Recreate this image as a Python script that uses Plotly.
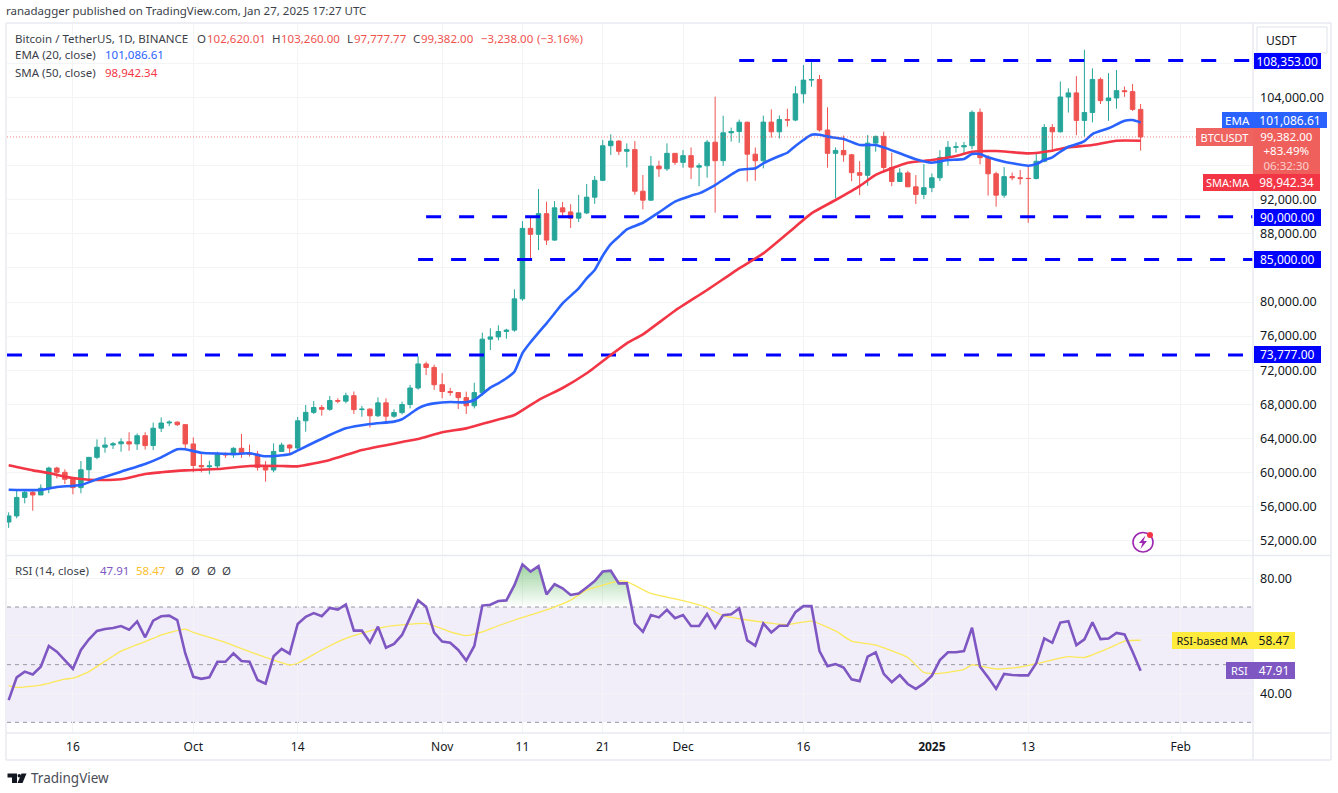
import pandas as pd
import plotly.graph_objects as go

W, H = 1338, 793
FONT = "Noto Sans"

dates = pd.date_range("2024-09-08", "2025-01-27", freq="D")

opens = [
    54160, 54880, 57050, 57650, 57340, 58130, 60500, 60000, 59180, 58200, 60300, 61760, 62950, 63200, 63350, 63580, 63330, 64300, 63140, 65180, 65790, 65890, 65600,
    63330, 60800, 60650, 60750, 62070, 62060, 62820, 62220, 62130, 60580, 60270, 62450, 63200, 62850, 66050, 67040, 67610, 67400, 68430, 68360, 69000, 67360, 67420, 66640, 68160, 66590, 67010, 67960, 69900, 72730, 72320,
    70290, 69490, 69370, 68770, 67810, 69360, 75640, 75900, 76540, 76700, 80370, 88650, 87950, 90380, 87270, 91060, 90580, 89850, 90460, 92310, 94290, 98350, 98900, 97700, 97900, 93010, 91960, 95960, 95640, 97460,
    96400, 97190, 95840, 96000, 98770, 96600, 99870, 100020, 101110, 97360, 96590, 101130, 99990, 101430, 101370, 104450, 106060, 106130, 100200, 97460, 97800, 97290, 95190, 94880, 98660, 99450, 95800, 94160, 95160, 93530, 92640,
    93430, 94590, 96980, 98170, 98220, 98360, 102280, 96950, 95060, 92550, 94726, 94600, 94520, 94500, 96530, 100500, 99990, 104080, 104560, 101330, 102260, 106140, 103650, 103960, 104820, 104710, 102620,
]
highs = [
    55300, 58040, 58040, 57920, 58580, 60660, 60660, 60350, 59210, 61330, 61780, 63870, 64110, 63560, 63990, 64700, 64570, 64700, 65840, 66450, 66100, 66000, 65650,
    64100, 62350, 61360, 62420, 62340, 62940, 64510, 63250, 62500, 61320, 63400, 63480, 63300, 66500, 67900, 68370, 67900, 68960, 68700, 69350, 69490, 67790, 67530, 68800, 68690, 67400, 68300, 70270, 73620, 72990, 72640,
    71630, 69920, 69400, 69470, 70520, 76400, 76910, 77260, 76860, 81490, 89500, 89950, 93270, 91780, 91850, 91750, 91480, 92580, 93860, 94800, 99030, 99690, 99000, 98630, 98900, 94920, 97150, 96600, 98630, 97460,
    97860, 98150, 96300, 99030, 104120, 101880, 100480, 101430, 101200, 98150, 101890, 102620, 101910, 102700, 105350, 107830, 108350, 106670, 102870, 98160, 99550, 97400, 96540, 99600, 99550, 100000, 97530, 95700, 95400, 94900, 96200,
    95100, 97830, 98900, 98770, 98800, 102500, 102720, 97260, 95300, 95840, 95200, 95500, 96000, 97450, 100900, 100900, 105900, 105100, 106530, 109630, 107440, 106370, 106880, 107250, 105300, 105600, 103260,
]
lows = [
    53480, 54600, 56350, 55490, 57340, 57540, 59290, 58620, 57420, 57540, 59100, 61530, 62300, 62740, 62420, 62530, 62620, 62670, 62620, 64730, 65420, 65430, 62730,
    60000, 59990, 59770, 60330, 61700, 61700, 61700, 61850, 60200, 58900, 60000, 62420, 62000, 62700, 64770, 66850, 66650, 67230, 68100, 68100, 66850, 66530, 65260, 66500, 65680, 66400, 66800, 67500, 69700, 71430, 69680,
    68700, 69000, 67440, 66850, 67500, 69000, 74360, 75500, 75690, 76500, 80150, 85070, 86100, 86700, 87200, 90050, 88700, 89400, 90340, 91530, 94200, 97260, 97260, 95800, 92590, 90880, 91860, 94700, 95400, 96100,
    95770, 94440, 93600, 94600, 90500, 96000, 98840, 98700, 94150, 94240, 95700, 99300, 99200, 100600, 101230, 103340, 105280, 100000, 95770, 92200, 96470, 94200, 92560, 93650, 97650, 95200, 93600, 94100, 93500, 91500, 92100,
    92900, 94200, 96000, 97550, 97300, 97950, 96170, 92500, 91200, 92250, 94300, 93800, 89300, 94400, 96400, 97650, 99900, 102250, 99600, 99420, 101100, 103250, 101280, 102700, 104100, 102450, 97777.77,
]
closes = [
    54880, 57050, 57650, 57340, 58130, 60500, 60000, 59180, 58200, 60300, 61760, 62950, 63200, 63350, 63580, 63330, 64300, 63140, 65180, 65790, 65890, 65600, 63330,
    60800, 60650, 60750, 62070, 62060, 62820, 62220, 62130, 60580, 60270, 62450, 63200, 62850, 66050, 67040, 67610, 67400, 68430, 68360, 69000, 67360, 67420, 66640, 68160, 66590, 67010, 67960, 69900, 72730, 72320, 70290,
    69490, 69370, 68770, 67810, 69360, 75640, 75900, 76540, 76700, 80370, 88650, 87950, 90380, 87270, 91060, 90580, 89850, 90460, 92310, 94290, 98350, 98900, 97700, 97900, 93010, 91960, 95960, 95640, 97460, 96400,
    97190, 95840, 96000, 98770, 96600, 99870, 100020, 101110, 97360, 96590, 101130, 99990, 101430, 101370, 104450, 106060, 106130, 100200, 97460, 97800, 97290, 95190, 94880, 98660, 99450, 95800, 94160, 95160, 93530, 92640, 93430,
    94590, 96980, 98170, 98220, 98360, 102280, 96950, 95060, 92550, 94726, 94600, 94500, 94500, 96530, 100500, 99990, 104080, 104560, 101330, 102260, 106140, 103650, 103960, 104820, 104710, 102620, 99382,
]

ema_dates = [
    "2024-09-08", "2024-09-12", "2024-09-14", "2024-09-17", "2024-09-19", "2024-09-22", "2024-09-25", "2024-09-27", "2024-09-29", "2024-09-30",
    "2024-10-02", "2024-10-06", "2024-10-08", "2024-10-10", "2024-10-13", "2024-10-14", "2024-10-18", "2024-10-20", "2024-10-23", "2024-10-26",
    "2024-10-27", "2024-10-28", "2024-10-29", "2024-10-30", "2024-10-31", "2024-11-02", "2024-11-04", "2024-11-05", "2024-11-06", "2024-11-07",
    "2024-11-08", "2024-11-09", "2024-11-10", "2024-11-11", "2024-11-12", "2024-11-13", "2024-11-14", "2024-11-15", "2024-11-16", "2024-11-18",
    "2024-11-19", "2024-11-20", "2024-11-21", "2024-11-22", "2024-11-23", "2024-11-24", "2024-11-26", "2024-11-28", "2024-11-30", "2024-12-02",
    "2024-12-03", "2024-12-05", "2024-12-08", "2024-12-10", "2024-12-11", "2024-12-13", "2024-12-14", "2024-12-15", "2024-12-16", "2024-12-17",
    "2024-12-18", "2024-12-19", "2024-12-21", "2024-12-23", "2024-12-25", "2024-12-26", "2024-12-28", "2024-12-30", "2025-01-01", "2025-01-03",
    "2025-01-05", "2025-01-06", "2025-01-07", "2025-01-08", "2025-01-10", "2025-01-13", "2025-01-14", "2025-01-15", "2025-01-16", "2025-01-17",
    "2025-01-18", "2025-01-19", "2025-01-20", "2025-01-21", "2025-01-23", "2025-01-25", "2025-01-26", "2025-01-27",
]
ema_values = [
    57958, 57923, 58275, 58510, 59180, 60075, 60976, 61762, 62700, 62700,
    62300, 62150, 62230, 61880, 62110, 62570, 64380, 65160, 65670, 65950,
    66230, 66850, 67510, 67900, 68100, 68250, 68220, 68490, 69200, 69940,
    70450, 71040, 71820, 74000, 75270, 76400, 77500, 78670, 79850, 81600,
    82780, 83750, 85440, 86810, 87670, 88530, 89310, 90530, 91780, 92480,
    92760, 93740, 95500, 95700, 96290, 97150, 97530, 98320, 99030, 99650,
    99650, 99420, 99150, 98440, 98440, 98160, 97460, 96760, 96360, 96670,
    96790, 97380, 97380, 96990, 96470, 96010, 96200, 96670, 96990, 97650,
    98240, 98520, 98900, 99730, 100400, 101290, 101370, 101086.61,
]

sma_dates = [
    "2024-09-08", "2024-09-11", "2024-09-13", "2024-09-15", "2024-09-17", "2024-09-19", "2024-09-22", "2024-09-25", "2024-09-27", "2024-09-30",
    "2024-10-04", "2024-10-08", "2024-10-12", "2024-10-14", "2024-10-18", "2024-10-22", "2024-10-27", "2024-10-29", "2024-11-01", "2024-11-04",
    "2024-11-07", "2024-11-10", "2024-11-13", "2024-11-16", "2024-11-19", "2024-11-22", "2024-11-24", "2024-11-26", "2024-11-30", "2024-12-04",
    "2024-12-08", "2024-12-11", "2024-12-15", "2024-12-17", "2024-12-20", "2024-12-23", "2024-12-25", "2024-12-27", "2024-12-29", "2025-01-01",
    "2025-01-04", "2025-01-06", "2025-01-09", "2025-01-13", "2025-01-16", "2025-01-18", "2025-01-21", "2025-01-24", "2025-01-27",
]
sma_values = [
    60820, 60230, 59920, 59490, 59210, 59100, 59180, 59800, 60000, 60230,
    60390, 60740, 60740, 60700, 61445, 62620, 63560, 63910, 64700, 65160,
    65950, 66730, 68490, 69900, 71630, 73777, 75150, 76200, 78980, 81410,
    83960, 85710, 88840, 90410, 91980, 93620, 94920, 95700, 96360, 96670,
    97150, 97650, 97730, 97460, 97770, 98160, 98440, 98940, 98942.34,
]

rsi_values = [
    37.7, 45.6, 47.6, 46.6, 49.3, 56.5, 54.5, 51.6, 48.5, 55.1,
    58.8, 61.7, 62.4, 62.7, 63.4, 62.1, 65.0, 59.5, 65.3, 66.8,
    67.0, 65.5, 53.9, 45.8, 45.1, 45.6, 51.0, 51.0, 53.9, 51.3,
    51.0, 44.7, 43.4, 52.9, 55.5, 53.8, 64.1, 66.6, 67.9, 66.8,
    69.7, 69.1, 70.9, 61.8, 61.8, 57.7, 63.2, 55.9, 57.2, 60.3,
    66.1, 72.3, 70.1, 61.1, 58.0, 57.6, 55.1, 51.4, 56.5, 70.5,
    70.8, 72.1, 72.3, 77.6, 84.8, 82.3, 84.2, 74.4, 77.9, 76.5,
    74.2, 74.7, 76.8, 79.0,
    82.3, 82.6, 78.2, 78.2, 64.3, 61.4, 67.2, 66.4, 69.0, 66.1,
    67.2, 63.4, 63.4, 67.6, 62.8, 67.2, 67.5, 69.5, 58.4, 56.6,
    64.3, 61.2, 63.5, 63.5, 68.2, 70.3, 70.3, 54.7, 49.5, 50.2,
    49.0, 44.9, 44.3, 52.8, 54.3, 46.8, 43.9, 46.4, 43.3, 41.6,
    43.5, 46.2, 51.6, 54.3, 54.3, 54.7, 62.8, 49.3, 45.6, 41.6,
    46.8, 46.4, 46.3, 46.3, 50.5, 59.1, 57.6, 64.6, 65.1, 56.8,
    58.8, 64.7, 58.9, 59.1, 61.0, 60.5, 54.5, 47.91,
]

rsi_ma_dates = [
    "2024-09-08", "2024-09-09", "2024-09-12", "2024-09-15", "2024-09-16", "2024-09-18", "2024-09-22", "2024-09-26", "2024-09-27", "2024-09-30",
    "2024-10-01", "2024-10-05", "2024-10-08", "2024-10-11", "2024-10-13", "2024-10-14", "2024-10-17", "2024-10-20", "2024-10-23", "2024-10-25",
    "2024-10-27", "2024-10-30", "2024-11-02", "2024-11-04", "2024-11-06", "2024-11-08", "2024-11-11", "2024-11-14", "2024-11-17", "2024-11-19",
    "2024-11-21", "2024-11-23", "2024-11-24", "2024-11-27", "2024-12-01", "2024-12-04", "2024-12-06", "2024-12-09", "2024-12-14", "2024-12-17",
    "2024-12-20", "2024-12-22", "2024-12-25", "2024-12-29", "2024-12-31", "2025-01-02", "2025-01-05", "2025-01-06", "2025-01-09", "2025-01-12",
    "2025-01-15", "2025-01-18", "2025-01-20", "2025-01-23", "2025-01-25", "2025-01-27",
]
rsi_ma_values = [
    42.7, 42.1, 42.9, 45.0, 45.3, 47.6, 54.7, 59.1, 60.3, 62.3,
    61.2, 57.7, 54.5, 51.6, 49.9, 50.5, 55.1, 59.1, 61.7, 63.2,
    63.8, 64.3, 61.4, 60.1, 61.4, 63.5, 66.4, 69.0, 72.4, 75.9,
    77.6, 79.0, 78.8, 74.7, 72.2, 69.8, 67.0, 65.5, 63.9, 65.1,
    61.7, 58.2, 56.8, 52.5, 47.3, 47.0, 48.4, 49.9, 48.5, 49.2,
    51.0, 52.8, 52.5, 55.7, 58.2, 58.47,
]

level_values = [108353, 90000, 85000, 73777]
level_starts = ["2024-12-08", "2024-10-30", "2024-10-29", "2024-09-07 19:00"]
axis_end = "2025-02-10"

price_ticks = list(range(52000, 112000, 4000))
# these sit behind the coloured tags in the original, only the gridline shows
hidden_price_ticks = [84000, 96000, 100000, 108000]
rsi_ticks = [40, 60, 80]
rsi_tick_labels = ["40.00", "", "80.00"]
rsi_bands = [70, 50, 30]
x_ticks = ["2024-09-16", "2024-10-01", "2024-10-14", "2024-11-01", "2024-11-11", "2024-11-21",
           "2024-12-01", "2024-12-16", "2025-01-01", "2025-01-13", "2025-02-01"]
x_labels = ["16", "Oct", "14", "Nov", "11", "21", "Dec", "16", "<b>2025</b>", "13", "Feb"]

GREEN = "#26a69a"
RED = "#ef5350"
GRID = "#f3f4f6"
FRAME = "#e8eaf0"
LEVEL = "#0000ff"
PURPLE = "#7e57c2"


def px(x):
    return x / W


def py(y):
    return 1 - y / H


fig = go.Figure()

fig.add_trace(go.Candlestick(
    x=dates, open=opens, high=highs, low=lows, close=closes,
    increasing=dict(line=dict(color=GREEN, width=1), fillcolor=GREEN),
    decreasing=dict(line=dict(color=RED, width=1), fillcolor=RED),
    whiskerwidth=0,
))
for value, start in zip(level_values, level_starts):
    fig.add_trace(go.Scatter(x=[start, axis_end], y=[value, value], mode="lines",
                             line=dict(color=LEVEL, width=3, dash="15px,18px")))
fig.add_trace(go.Scatter(x=pd.to_datetime(sma_dates), y=sma_values, mode="lines",
                         line=dict(color="#f23645", width=2.6, shape="spline", smoothing=0.5)))
fig.add_trace(go.Scatter(x=pd.to_datetime(ema_dates), y=ema_values, mode="lines",
                         line=dict(color="#2962ff", width=2.6, shape="spline", smoothing=0.5)))

# RSI pane, the green part is everything over 70
over_70 = [max(v, 70) for v in rsi_values]
fig.add_trace(go.Scatter(x=dates, y=[70] * len(dates), mode="lines", line=dict(width=0),
                         xaxis="x2", yaxis="y2"))
fig.add_trace(go.Scatter(x=dates, y=over_70, mode="lines", line=dict(width=0), fill="tonexty",
                         fillgradient=dict(type="vertical",
                                           colorscale=[[0, "rgba(76,175,80,0)"], [1, "rgba(76,175,80,0.55)"]]),
                         xaxis="x2", yaxis="y2"))
fig.add_trace(go.Scatter(x=pd.to_datetime(rsi_ma_dates), y=rsi_ma_values, mode="lines",
                         line=dict(color="#fbe85a", width=1.3, shape="spline", smoothing=0.5),
                         xaxis="x2", yaxis="y2"))
fig.add_trace(go.Scatter(x=dates, y=rsi_values, mode="lines",
                         line=dict(color=PURPLE, width=2.6), xaxis="x2", yaxis="y2"))

x_common = dict(
    type="date", range=["2024-09-07 19:00", axis_end], domain=[px(7), px(1253)],
    tickvals=x_ticks, ticktext=x_labels, showgrid=True, gridcolor=GRID, gridwidth=1,
    zeroline=False, showline=False, ticks="", rangeslider=dict(visible=False),
)
y_common = dict(side="right", showgrid=True, gridcolor=GRID, gridwidth=1, zeroline=False,
                showline=False, ticks="", ticklen=0, ticklabelstandoff=6,
                tickfont=dict(family=FONT, size=12.5, color="#131722"))
price_labels = ["" if v in hidden_price_ticks else f"{v:,.2f}" for v in price_ticks]

fig.update_layout(
    width=W, height=H, margin=dict(l=0, r=0, t=0, b=0, pad=0),
    paper_bgcolor="white", plot_bgcolor="white", showlegend=False, boxgap=0.2,
    font=dict(family=FONT, size=12, color="#131722"),
    xaxis=dict(x_common, anchor="y", showticklabels=False),
    xaxis2=dict(x_common, anchor="y2", matches="x", showticklabels=True, ticklabelstandoff=5,
                tickfont=dict(family=FONT, size=12, color="#131722")),
    yaxis=dict(y_common, domain=[py(555), py(24)], range=[50289, 112650],
               tickvals=price_ticks, ticktext=price_labels, anchor="x"),
    yaxis2=dict(y_common, domain=[py(733), py(556)], range=[26.3, 87.7],
                tickvals=rsi_ticks, ticktext=rsi_tick_labels, anchor="x2"),
)

# RSI band and its dashed limits
fig.add_shape(type="rect", xref="x2 domain", x0=0, x1=1, yref="y2", y0=rsi_bands[2], y1=rsi_bands[0],
              fillcolor="rgba(126,87,194,0.1)", line_width=0, layer="below")
for band in rsi_bands:
    fig.add_shape(type="line", xref="x2 domain", x0=0, x1=1, yref="y2", y0=band, y1=band,
                  line=dict(color="#9598a1", width=1, dash="4px,4px"), layer="below")

# last price, dotted up to the tag
fig.add_shape(type="line", xref="x", x0="2024-09-07 19:00", x1=axis_end, yref="y",
              y0=closes[-1], y1=closes[-1], line=dict(color=RED, width=1, dash="1px,2px"), opacity=0.7)

# frame of the widget
frame_lines = [(6, 23, 1331, 23), (6, 760, 1331, 760), (6, 23, 6, 760), (1331, 23, 1331, 760),
               (6, 555.5, 1331, 555.5), (6, 733, 1331, 733), (1253, 23, 1253, 760)]
for x0, y0, x1, y1 in frame_lines:
    fig.add_shape(type="line", xref="paper", yref="paper", x0=px(x0), x1=px(x1), y0=py(y0), y1=py(y1),
                  line=dict(color=FRAME, width=1.5))


def text(x, y, s, color="#131722", size=11.5, anchor="left"):
    fig.add_annotation(xref="paper", yref="paper", x=px(x), y=py(y), text=s, showarrow=False,
                       xanchor=anchor, yanchor="middle", font=dict(family=FONT, size=size, color=color),
                       borderpad=0, borderwidth=0)


def box(x0, x1, y0, y1, s, bg, color="white", size=12):
    fig.add_annotation(xref="paper", yref="paper", x=px(x0), y=py((y0 + y1) / 2), xanchor="left", yanchor="middle",
                       width=x1 - x0, height=y1 - y0, text=s, showarrow=False, bgcolor=bg, align="center",
                       valign="middle", borderpad=0, borderwidth=0,
                       font=dict(family=FONT, size=size, color=color))


text(6, 11, "ranadagger published on TradingView.com, Jan 27, 2025 17:27 UTC", "#3c3f4a", 11.5)
text(15, 38, "Bitcoin / TetherUS, 1D, BINANCE", "#3c3f4a", 11.5)
text(197, 38, "O", "#3c3f4a", 11.5)
text(207, 38, "102,620.01", RED)
text(272, 38, "H", "#3c3f4a")
text(281, 38, "103,260.00", RED)
text(347, 38, "L", "#3c3f4a")
text(354, 38, "97,777.77", RED)
text(413, 38, "C", "#3c3f4a")
text(421, 38, "99,382.00", RED)
text(481, 38, "−3,238.00", RED)
text(537, 38, "(−3.16%)", RED)
text(15, 55, "EMA (20, close)", "#3c3f4a")
text(105, 55, "101,086.61", "#2962ff")
text(15, 72, "SMA (50, close)", "#3c3f4a")
text(105, 72, "98,942.34", "#f23645")
text(15, 570, "RSI (14, close)", "#3c3f4a")
text(100, 570, "47.91", PURPLE)
text(136, 570, "58.47", "#fbc02d")
for x_pos in (175, 191, 207, 222):
    text(x_pos, 570, "Ø", "#3c3f4a")

# right side tags
box(1253.5, 1320, 53, 69, "108,353.00", LEVEL)
box(1222, 1253, 112, 128, "EMA", "#2962ff", size=11.5)
box(1253, 1327, 112, 128, "101,086.61", "#2962ff")
box(1196, 1253, 128, 146, "BTCUSDT", "#ef6460", size=11)
box(1253, 1320, 128, 174, "99,382.00<br>+83.49%<br><span style='color:#fbd0ce'>06:32:30</span>", "#ef5f5c", size=11.5)
box(1203, 1253, 174, 191, "SMA:MA", "#f23645", size=11)
box(1253, 1320, 174, 191, "98,942.34", "#f23645")
box(1253.5, 1320, 209, 225.5, "90,000.00", LEVEL)
box(1253.5, 1320, 251, 268, "85,000.00", LEVEL)
box(1253.5, 1320, 346.5, 363, "73,777.00", LEVEL)
box(1172, 1253, 632, 649, "RSI-based MA", "#ffeb3b", "#131722", 11)
box(1253, 1295, 632, 649, "58.47", "#ffeb3b", "#131722")
box(1226, 1253, 662, 679, "RSI", PURPLE, size=11)
box(1253, 1295, 662, 679, "47.91", PURPLE)

# USDT button
fig.add_shape(type="rect", xref="paper", yref="paper", x0=px(1257), x1=px(1327), y0=py(27), y1=py(53),
              fillcolor="white", line=dict(color="#e0e3eb", width=1), layer="above")
text(1266, 40.5, "USDT", "#131722", 12)

# TradingView mark at the bottom
logo_paths = [
    [(7.5, 773.5), (17, 773.5), (17, 783), (12, 783), (12, 777.5), (7.5, 777.5)],
    [(21.5, 773.5), (26.5, 773.5), (22.5, 783), (17.5, 783)],
]
for points in logo_paths:
    path = "M " + " L ".join(f"{px(a):.5f} {py(b):.5f}" for a, b in points) + " Z"
    fig.add_shape(type="path", xref="paper", yref="paper", path=path, fillcolor="#131722", line_width=0)
fig.add_shape(type="circle", xref="paper", yref="paper", x0=px(17.5), x1=px(21), y0=py(777.5), y1=py(774),
              fillcolor="#131722", line_width=0)
text(31, 778, "TradingView", "#4a4d57", 13.5)

# small bolt badge near the last bar
fig.add_shape(type="circle", xref="paper", yref="paper", x0=px(1133), x1=px(1153), y0=py(552), y1=py(532.5),
              fillcolor="white", line=dict(color="#9c27b0", width=1.6))
bolt = [(1145.5, 535.5), (1139, 543), (1142.5, 543), (1140.5, 549), (1147, 541), (1143.5, 541)]
fig.add_shape(type="path", xref="paper", yref="paper", fillcolor="#9c27b0", line_width=0,
              path="M " + " L ".join(f"{px(a):.5f} {py(b):.5f}" for a, b in bolt) + " Z")
fig.add_shape(type="circle", xref="paper", yref="paper", x0=px(1147), x1=px(1153), y0=py(538), y1=py(532),
              fillcolor="#f23645", line_width=0)

fig.write_html("out.html", config={"displayModeBar": False}, post_script="document.body.style.margin='0';")
